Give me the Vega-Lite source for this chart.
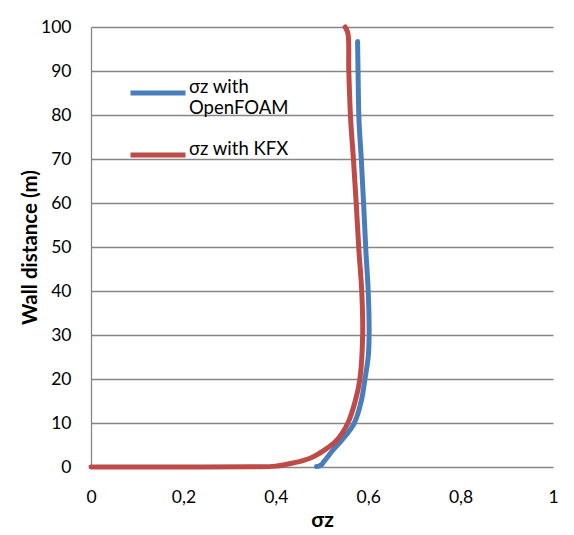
{
  "$schema": "https://vega.github.io/schema/vega-lite/v6.json",
  "width": 462,
  "height": 440,
  "autosize": "none",
  "padding": {"left": 91, "top": 27, "right": 21, "bottom": 68},
  "background": "white",
  "config": {
    "font": "Lato",
    "view": {"stroke": null},
    "axis": {"labelFont": "Lato", "labelFontSize": 17.5, "labelColor": "black", "titleFont": "Lato", "titleColor": "black", "ticks": false, "gridColor": "#868686", "gridWidth": 1.3, "gridOpacity": 1}
  },
  "data": {
    "values": [
      {"series": "σz with OpenFOAM", "i": 0, "s": 0.488, "z": 0.1},
      {"series": "σz with OpenFOAM", "i": 1, "s": 0.493, "z": 0.2},
      {"series": "σz with OpenFOAM", "i": 2, "s": 0.5, "z": 0.6},
      {"series": "σz with OpenFOAM", "i": 3, "s": 0.503, "z": 1.1},
      {"series": "σz with OpenFOAM", "i": 4, "s": 0.51, "z": 2},
      {"series": "σz with OpenFOAM", "i": 5, "s": 0.524, "z": 3.9},
      {"series": "σz with OpenFOAM", "i": 6, "s": 0.543, "z": 6.1},
      {"series": "σz with OpenFOAM", "i": 7, "s": 0.57, "z": 10},
      {"series": "σz with OpenFOAM", "i": 8, "s": 0.585, "z": 15},
      {"series": "σz with OpenFOAM", "i": 9, "s": 0.593, "z": 20},
      {"series": "σz with OpenFOAM", "i": 10, "s": 0.6, "z": 25},
      {"series": "σz with OpenFOAM", "i": 11, "s": 0.602, "z": 30},
      {"series": "σz with OpenFOAM", "i": 12, "s": 0.6, "z": 40},
      {"series": "σz with OpenFOAM", "i": 13, "s": 0.595, "z": 49},
      {"series": "σz with OpenFOAM", "i": 14, "s": 0.59, "z": 60},
      {"series": "σz with OpenFOAM", "i": 15, "s": 0.585, "z": 70},
      {"series": "σz with OpenFOAM", "i": 16, "s": 0.58, "z": 79},
      {"series": "σz with OpenFOAM", "i": 17, "s": 0.578, "z": 90},
      {"series": "σz with OpenFOAM", "i": 18, "s": 0.577, "z": 96.7},
      {"series": "σz with KFX", "i": 0, "s": 0.0, "z": 0},
      {"series": "σz with KFX", "i": 1, "s": 0.2, "z": 0.0},
      {"series": "σz with KFX", "i": 2, "s": 0.35, "z": 0.05},
      {"series": "σz with KFX", "i": 3, "s": 0.4, "z": 0.2},
      {"series": "σz with KFX", "i": 4, "s": 0.437, "z": 0.9},
      {"series": "σz with KFX", "i": 5, "s": 0.474, "z": 2},
      {"series": "σz with KFX", "i": 6, "s": 0.506, "z": 3.9},
      {"series": "σz with KFX", "i": 7, "s": 0.532, "z": 6.1},
      {"series": "σz with KFX", "i": 8, "s": 0.556, "z": 10},
      {"series": "σz with KFX", "i": 9, "s": 0.572, "z": 15},
      {"series": "σz with KFX", "i": 10, "s": 0.582, "z": 20},
      {"series": "σz with KFX", "i": 11, "s": 0.588, "z": 30},
      {"series": "σz with KFX", "i": 12, "s": 0.586, "z": 40},
      {"series": "σz with KFX", "i": 13, "s": 0.58, "z": 49},
      {"series": "σz with KFX", "i": 14, "s": 0.574, "z": 60},
      {"series": "σz with KFX", "i": 15, "s": 0.568, "z": 70},
      {"series": "σz with KFX", "i": 16, "s": 0.562, "z": 79},
      {"series": "σz with KFX", "i": 17, "s": 0.558, "z": 90},
      {"series": "σz with KFX", "i": 18, "s": 0.556, "z": 98.6},
      {"series": "σz with KFX", "i": 19, "s": 0.55, "z": 100}
    ]
  },
  "mark": {"type": "line", "strokeWidth": 5, "strokeCap": "round", "strokeJoin": "round", "interpolate": "catmull-rom"},
  "encoding": {
    "x": {
      "field": "s", "type": "quantitative",
      "scale": {"domain": [0, 1], "nice": false},
      "axis": {"values": [0, 0.2, 0.4, 0.6, 0.8, 1], "grid": false, "domain": false, "labelFlush": false, "labelPadding": 21, "labelExpr": "replace(format(datum.value, '~g'), '.', ',')", "title": "σz", "titleFontSize": 21, "titleFontWeight": "bold", "titlePadding": 4}
    },
    "y": {
      "field": "z", "type": "quantitative",
      "scale": {"domain": [0, 100], "nice": false},
      "axis": {"values": [0, 10, 20, 30, 40, 50, 60, 70, 80, 90, 100], "grid": true, "domain": true, "domainColor": "#868686", "domainWidth": 1.3, "labelPadding": 20, "title": "Wall distance (m)", "titleFontSize": 20.5, "titleFontWeight": "bold", "titlePadding": 0}
    },
    "color": {
      "field": "series", "type": "nominal",
      "scale": {"domain": ["σz with OpenFOAM", "σz with KFX"], "range": ["#4a7ebb", "#be4b48"]},
      "legend": {
        "title": null, "orient": "none", "legendX": 37, "legendY": 36,
        "symbolType": "stroke", "symbolSize": 3025, "symbolStrokeWidth": 5,
        "labelFont": "Lato", "labelFontSize": 18.5, "labelColor": "black", "labelOffset": 1,
        "labelBaseline": "alphabetic", "rowPadding": 8, "labelLimit": 200,
        "labelExpr": "datum.label == 'σz with OpenFOAM' ? ['σz with', 'OpenFOAM'] : datum.label"
      }
    },
    "order": {"field": "i", "type": "quantitative"}
  }
}
